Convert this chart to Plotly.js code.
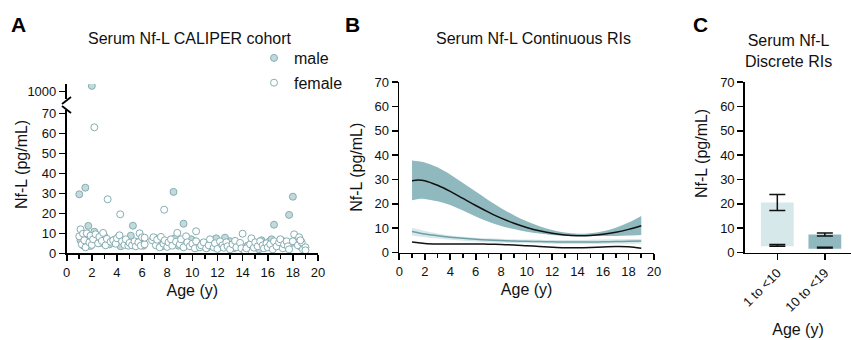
<!DOCTYPE html>
<html><head><meta charset="utf-8">
<script src="https://cdn.plot.ly/plotly-3.0.1.min.js"></script>
<style>html,body{margin:0;padding:0;background:#fff}#chart{width:851px;height:340px}</style>
</head><body><div id="chart"></div>
<script>
// ---------- Panel A: CALIPER cohort scatter ----------
const maleAge = [1.0,1.48,1.72,5.27,8.5,9.3,16.5,17.7,18.0,
  1.1,1.3,1.6,1.9,2.2,2.4,2.7,3.0,3.4,3.8,4.1,4.5,4.9,5.1,5.6,5.9,6.1,
  7.0,7.3,7.6,7.9,8.2,8.6,8.9,9.2,9.7,10.1,10.4,10.8,11.2,11.6,11.9,12.3,12.6,12.9,13.3,13.7,14.1,14.4,14.8,
  15.1,15.5,15.8,16.1,16.3,16.8,17.1,17.4,17.9,18.3,18.6,18.9,2.9,4.3,9.9,13.0,15.3];
const maleNfl = [29.5,32.8,13.7,13.8,30.7,14.8,14.3,19.2,28.3,
  6.5,4.0,8.0,3.7,10.8,7.0,5.2,8.5,4.5,6.8,8.0,5.5,6.2,8.8,4.8,6.5,3.8,
  7.7,5.0,3.5,6.0,4.2,7.5,3.8,5.5,4.0,6.2,3.0,5.0,2.8,4.5,7.5,3.5,7.8,5.0,2.5,4.2,1.5,3.8,6.0,
  4.5,6.5,3.2,5.8,7.0,4.0,6.5,3.0,5.2,7.8,3.5,2.5,6.0,3.5,7.0,6.0,2.0];
const maleHighAge = [2.0];
const maleHighNfl = [1030];
const femaleAge = [2.2,3.26,4.26,7.76,10.3,14.0,18.1,
  1.0,1.1,1.2,1.3,1.4,1.5,1.6,1.8,1.9,2.0,2.1,2.3,2.5,2.6,2.8,2.9,3.1,3.2,3.5,3.7,3.9,4.0,4.2,4.4,4.6,4.7,4.9,
  5.0,5.2,5.4,5.5,5.7,5.8,5.9,6.0,6.2,6.2,
  6.8,6.9,7.1,7.2,7.4,7.5,7.7,7.8,8.0,8.1,8.3,8.4,8.7,8.8,9.0,9.1,9.3,9.5,9.6,9.8,10.0,10.2,10.3,10.6,10.7,10.9,
  11.1,11.3,11.4,11.7,11.8,12.0,12.2,12.4,12.5,12.7,12.8,13.0,13.2,13.4,13.5,13.8,13.9,14.2,14.3,14.6,14.7,14.9,
  15.0,15.2,15.4,15.6,15.7,15.9,16.0,16.2,16.4,16.5,16.7,16.9,17.0,17.2,17.3,17.5,17.6,17.7,18.0,18.4,18.5,18.7,18.8,19.0,19.0,18.6];
const femaleNfl = [63,27,19.5,21.8,11.0,9.8,9.5,
  8.5,12.0,4.5,9.8,6.5,3.0,10.0,5.5,8.8,4.2,7.0,9.5,5.0,8.2,6.2,10.2,4.0,7.2,5.8,6.5,4.8,7.5,9.0,6.0,4.2,7.0,3.8,
  5.2,4.0,6.0,3.5,5.5,10.0,3.8,8.0,4.5,7.8,
  6.5,8.0,4.0,6.8,3.0,8.2,4.8,6.5,3.2,5.5,7.0,3.8,5.8,10.2,4.5,7.0,3.0,8.5,5.5,3.5,4.8,2.5,6.0,3.0,4.0,5.5,
  2.5,4.0,7.0,3.0,5.0,2.2,6.0,4.0,2.8,5.5,3.5,2.0,4.5,6.2,3.0,5.2,2.5,0.8,2.5,4.5,7.5,2.8,
  5.5,3.5,6.0,4.0,2.5,5.0,3.0,4.5,2.0,6.0,3.5,5.5,7.0,2.5,4.5,6.0,3.5,2.0,6.0,4.0,8.0,5.5,2.0,3.0,1.5,6.5];

// ---------- Panel B: continuous reference intervals ----------
const ageGrid = [1,1.5,2,3,4,5,6,7,8,9,10,11,12,13,14,15,16,17,18,19];
const upperLimit   = [29.5,29.8,29.5,27.6,25.1,22.2,19.3,16.6,14.1,12.0,10.3,8.9,7.9,7.2,6.9,7.0,7.5,8.3,9.5,11.0];
const upperCIHighB = [37.8,37.5,37.0,35.0,32.0,28.5,25.0,21.5,18.2,15.3,12.8,10.8,9.2,8.2,7.7,7.9,8.7,10.2,12.3,15.0];
const upperCILowB  = [21.5,22.0,22.0,21.0,19.5,17.2,14.8,12.6,10.9,9.6,8.5,7.8,7.2,6.9,6.8,6.8,6.8,6.8,7.0,7.2];
const midLimit     = [8.6,8.1,7.6,6.9,6.3,5.8,5.4,5.1,4.9,4.7,4.6,4.5,4.4,4.3,4.3,4.3,4.4,4.5,4.6,4.7];
const midCIHigh    = [10.2,9.5,8.8,7.8,7.0,6.5,6.1,5.8,5.6,5.4,5.3,5.2,5.1,5.1,5.1,5.2,5.3,5.4,5.5,5.6];
const midCILow     = [7.0,6.6,6.3,5.7,5.2,4.8,4.5,4.2,4.0,3.9,3.8,3.7,3.6,3.5,3.5,3.5,3.5,3.6,3.6,3.7];
const lowerLimit   = [4.3,4.0,3.7,3.5,3.5,3.5,3.5,3.4,3.3,3.1,2.8,2.5,2.2,2.0,2.0,2.1,2.3,2.5,2.4,1.7];

// ---------- Panel C: discrete reference intervals ----------
const discreteGroups = ['1 to <10','10 to <19'];
const discreteLower = [2.6,1.5];
const discreteUpper = [20.5,7.4];
const upperCILowC  = [17.2,6.8];
const upperCIHighC = [23.8,8.0];
const lowerCILowC  = [2.6,1.8];
const lowerCIHighC = [3.3,2.2];

const FONT = 'Liberation Sans, Arial, sans-serif';
const EDGE = '#86adb2';
const MALE_FILL = '#c3dadc';
const BAND_DARK = '#8fb9be';
const BAND_LIGHT = '#d7e8ea';
const TEAL_LINE = '#6f9fa5';

const traces = [];
// A
traces.push({type:'scatter',mode:'markers',x:maleAge,y:maleNfl,xaxis:'x',yaxis:'y',name:'male',legendgroup:'m',
  marker:{size:7,color:MALE_FILL,line:{color:EDGE,width:1}},showlegend:true});
traces.push({type:'scatter',mode:'markers',x:maleHighAge,y:maleHighNfl,xaxis:'x',yaxis:'y2',name:'male',legendgroup:'m',
  marker:{size:7,color:MALE_FILL,line:{color:EDGE,width:1}},showlegend:false});
traces.push({type:'scatter',mode:'markers',x:femaleAge,y:femaleNfl,xaxis:'x',yaxis:'y',name:'female',legendgroup:'f',
  marker:{size:7,color:'#ffffff',line:{color:EDGE,width:1}},showlegend:true});
// B
const band = (lo, hi, color) => [
  {type:'scatter',mode:'lines',x:ageGrid,y:lo,xaxis:'x2',yaxis:'y3',line:{width:0,shape:'spline'},showlegend:false,hoverinfo:'skip'},
  {type:'scatter',mode:'lines',x:ageGrid,y:hi,xaxis:'x2',yaxis:'y3',line:{width:0,shape:'spline'},fill:'tonexty',fillcolor:color,showlegend:false,hoverinfo:'skip'}
];
traces.push(...band(upperCILowB, upperCIHighB, BAND_DARK));
traces.push(...band(midCILow, midCIHigh, BAND_LIGHT));
traces.push({type:'scatter',mode:'lines',x:ageGrid,y:upperLimit,xaxis:'x2',yaxis:'y3',line:{color:'#111',width:1.5,shape:'spline'},showlegend:false});
traces.push({type:'scatter',mode:'lines',x:ageGrid,y:midLimit,xaxis:'x2',yaxis:'y3',line:{color:TEAL_LINE,width:1.5,shape:'spline'},showlegend:false});
traces.push({type:'scatter',mode:'lines',x:ageGrid,y:lowerLimit,xaxis:'x2',yaxis:'y3',line:{color:'#111',width:1.5,shape:'spline'},showlegend:false});
// C
traces.push({type:'bar',x:discreteGroups,y:discreteUpper.map((u,i)=>u-discreteLower[i]),base:discreteLower,
  xaxis:'x3',yaxis:'y4',width:0.69,marker:{color:[BAND_LIGHT,BAND_DARK],line:{width:0}},showlegend:false});
const ciTrace = (lo, hi) => ({type:'scatter',mode:'markers',x:discreteGroups,
  y:lo.map((l,i)=>(l+hi[i])/2),xaxis:'x3',yaxis:'y4',marker:{size:1,opacity:0},showlegend:false,
  error_y:{type:'data',symmetric:true,array:lo.map((l,i)=>(hi[i]-l)/2),color:'#111',thickness:1.5,width:8}});
traces.push(ciTrace(upperCILowC, upperCIHighC));
traces.push(ciTrace(lowerCILowC, lowerCIHighC));

const W = 851, H = 340;
const px = v => v / W;
const py = v => 1 - v / H;
const tickFont = {family:FONT,size:13,color:'#111'};
const titleFont = {family:FONT,size:16,color:'#111'};
const axBase = {showline:true,linecolor:'#000',linewidth:1.8,ticks:'outside',ticklen:6,tickwidth:1.6,tickcolor:'#000',
  showgrid:false,zeroline:false,tickfont:tickFont,fixedrange:true,automargin:false};
const minor = {dtick:1,ticks:'outside',ticklen:4,tickwidth:1.6,tickcolor:'#000',showgrid:false};
const ann = (text, x, y, extra) => Object.assign({text:text,x:px(x),y:py(y),xref:'paper',yref:'paper',
  xanchor:'center',yanchor:'middle',showarrow:false,font:titleFont}, extra || {});
const letterFont = {family:FONT,size:21,color:'#000'};

const layout = {
  width:W,height:H,margin:{l:0,r:0,t:0,b:0},paper_bgcolor:'#fff',plot_bgcolor:'rgba(0,0,0,0)',
  font:{family:FONT,color:'#111'},showlegend:true,
  legend:{x:px(254),y:py(41),xanchor:'left',yanchor:'top',font:{family:FONT,size:16,color:'#111'},
    bgcolor:'rgba(0,0,0,0)',tracegroupgap:1,traceorder:'grouped'},
  xaxis:Object.assign({},axBase,{domain:[px(66.7),px(318)],range:[0,20],dtick:2,anchor:'y',minor:minor,
    title:{text:'Age (y)',font:titleFont,standoff:6}}),
  yaxis:Object.assign({},axBase,{domain:[py(253.3),py(110.3)],range:[0,71.5],tickvals:[0,10,20,30,40,50,60,70],anchor:'x'}),
  yaxis2:Object.assign({},axBase,{domain:[py(99),py(84)],range:[960,1040],tickvals:[1000],anchor:'x'}),
  xaxis2:Object.assign({},axBase,{domain:[px(399.3),px(654)],range:[0,20],dtick:2,anchor:'y3',minor:minor,
    title:{text:'Age (y)',font:titleFont,standoff:6}}),
  yaxis3:Object.assign({},axBase,{domain:[py(252.5),py(82)],range:[0,70],dtick:10,anchor:'x2',
    title:{text:'Nf-L (pg/mL)',font:titleFont,standoff:8}}),
  xaxis3:Object.assign({},axBase,{domain:[px(745),1],type:'category',range:[-0.68,1.55],anchor:'y4',tickangle:-45,
    title:{text:'Age (y)',font:titleFont,standoff:10}}),
  yaxis4:Object.assign({},axBase,{domain:[py(252.5),py(82)],range:[0,70],dtick:10,anchor:'x3'}),
  annotations:[
    ann('<b>A</b>',18,25,{font:letterFont}),
    ann('<b>B</b>',352,25,{font:letterFont}),
    ann('<b>C</b>',700,25,{font:letterFont}),
    ann('Serum Nf-L CALIPER cohort',190,38),
    ann('Serum Nf-L Continuous RIs',533,38),
    ann('Serum Nf-L<br>Discrete RIs',788,51),
    ann('Nf-L (pg/mL)',21,165,{textangle:-90}),
    ann('Nf-L (pg/mL)',702,154,{textangle:-90})
  ],
  shapes:[
    {type:'line',xref:'paper',yref:'paper',x0:px(62),y0:py(104),x1:px(71),y1:py(97),line:{color:'#000',width:1.8}},
    {type:'line',xref:'paper',yref:'paper',x0:px(62),y0:py(106),x1:px(71),y1:py(113),line:{color:'#000',width:1.8}}
  ]
};
Plotly.newPlot('chart', traces, layout, {staticPlot:true,displayModeBar:false});
</script></body></html>
